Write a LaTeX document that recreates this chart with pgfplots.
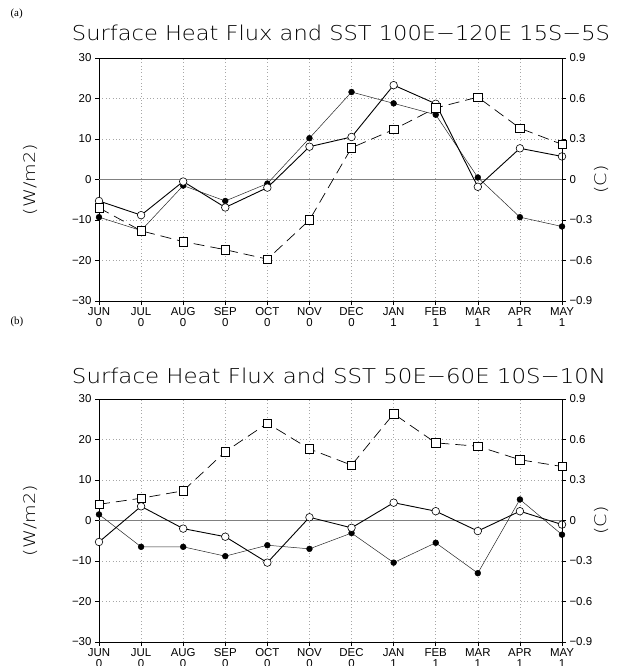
\documentclass[border=0pt]{standalone}
\usepackage{pgfplots}
\pgfplotsset{compat=1.18}
\usepackage{pgfplotstable}
\usepackage{fontspec}
\setmainfont{Liberation Sans}
\newfontfamily\serif{Liberation Serif}
\newfontfamily\thin{DejaVu Sans ExtraLight}

\pgfplotstableread{
m open filled sq
0 -5.3 -9.3 -0.21
1 -8.8 -12.6 -0.38
2 -0.5 -1.5 -0.46
3 -6.9 -5.3 -0.52
4 -2.0 -1.0 -0.59
5 8.1 10.2 -0.30
6 10.5 21.6 0.235
7 23.3 18.8 0.37
8 18.7 16.0 0.53
9 -1.8 0.5 0.61
10 7.7 -9.3 0.38
11 5.7 -11.6 0.26
}\dataA

\pgfplotstableread{
m open filled sq
0 -5.3 1.5 0.12
1 3.5 -6.5 0.165
2 -2.0 -6.5 0.22
3 -4.0 -8.8 0.51
4 -10.4 -6.1 0.72
5 0.8 -7.0 0.53
6 -1.8 -3.1 0.41
7 4.4 -10.4 0.79
8 2.3 -5.5 0.575
9 -2.6 -13.0 0.55
10 2.3 5.2 0.45
11 -1.0 -3.5 0.40
}\dataB

\pgfplotsset{
  base/.style={
    scale only axis, width=463bp, height=243bp,
    xmin=0, xmax=11,
    axis line style={line width=0.8bp},
    tick style={black, line width=0.6bp},
    major tick length=4bp, tick align=outside,
    ticklabel style={font=\fontsize{11.5}{12}\selectfont},
    /pgf/number format/assume math mode=true,
  },
  left/.style={
    base,
    ymin=-30, ymax=30,
    ytick={-30,-20,-10,0,10,20,30},
    yticklabels={−30,−20,−10,0,10,20,30},
    ytick pos=left, xtick pos=bottom,
    xtick={0,...,11},
    xticklabels={JUN\\0,JUL\\0,AUG\\0,SEP\\0,OCT\\0,NOV\\0,DEC\\0,JAN\\1,FEB\\1,MAR\\1,APR\\1,MAY\\1},
    xticklabel style={align=center, font=\fontsize{11.5}{11.5}\selectfont, yshift=1bp},
    grid=major,
    major grid style={dash pattern=on 0.8bp off 2.6bp, gray!70, line width=0.5bp},
  },
  right/.style={
    base,
    ymin=-0.9, ymax=0.9,
    ytick={-0.9,-0.6,-0.3,0,0.3,0.6,0.9},
    yticklabels={−0.9,−0.6,−0.3,0,0.3,0.6,0.9},
    axis x line=none, axis y line*=right,
  },
  openline/.style={black, line width=0.9bp, mark=*, mark size=3.8bp, mark options={solid, fill=white, draw=black, line width=0.6bp}},
  filledline/.style={black!85, line width=0.5bp, mark=*, mark size=2.9bp, mark options={solid, fill=black, draw=black}},
  sqline/.style={black, line width=0.7bp, dash pattern=on 11bp off 6bp, mark=square*, mark size=4.2bp, mark options={solid, fill=white, draw=black, line width=0.6bp}},
}

\begin{document}
\begin{tikzpicture}
\useasboundingbox (0bp,0bp) rectangle (622bp,-666bp);

% ---------- panel (a)
\node[anchor=west] at (7bp,-14bp) {\serif\fontsize{11}{11}\selectfont (a)};
\node[anchor=base, inner sep=0] at (341bp,-40.5bp) {\resizebox{538bp}{15.5bp}{\thin\fontsize{22}{22}\selectfont Surface Heat Flux and SST 100E−120E 15S−5S}};
\begin{axis}[left, at={(99bp,-301bp)}, anchor=south west]
  \addplot[gray, line width=0.5bp, no marks] coordinates {(0,0) (11,0)};
  \addplot[filledline] table[x=m, y=filled] {\dataA};
  \addplot[openline] table[x=m, y=open] {\dataA};
\end{axis}
\begin{axis}[right, at={(99bp,-301bp)}, anchor=south west]
  \addplot[sqline] table[x=m, y=sq] {\dataA};
\end{axis}
\node[rotate=90] at (30bp,-179.5bp) {\scalebox{1.2}[1]{\thin\fontsize{16}{16}\selectfont (W/m2)}};
\node[rotate=90] at (601bp,-179.5bp) {\scalebox{1.2}[1]{\thin\fontsize{16}{16}\selectfont (C)}};

% ---------- panel (b)
\node[anchor=west] at (7bp,-322bp) {\serif\fontsize{11}{11}\selectfont (b)};
\node[anchor=base, inner sep=0] at (339bp,-383bp) {\resizebox{534bp}{15.5bp}{\thin\fontsize{22}{22}\selectfont Surface Heat Flux and SST 50E−60E 10S−10N}};
\begin{axis}[left, at={(99bp,-642bp)}, anchor=south west]
  \addplot[gray, line width=0.5bp, no marks] coordinates {(0,0) (11,0)};
  \addplot[filledline] table[x=m, y=filled] {\dataB};
  \addplot[openline] table[x=m, y=open] {\dataB};
\end{axis}
\begin{axis}[right, at={(99bp,-642bp)}, anchor=south west]
  \addplot[sqline] table[x=m, y=sq] {\dataB};
\end{axis}
\node[rotate=90] at (30bp,-520.5bp) {\scalebox{1.2}[1]{\thin\fontsize{16}{16}\selectfont (W/m2)}};
\node[rotate=90] at (601bp,-520.5bp) {\scalebox{1.2}[1]{\thin\fontsize{16}{16}\selectfont (C)}};
\end{tikzpicture}
\end{document}
